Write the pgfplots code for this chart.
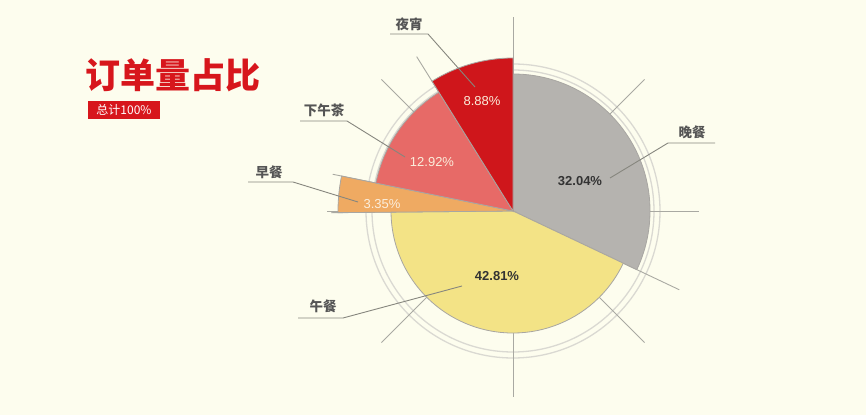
\documentclass[border=0pt]{standalone}
\usepackage{pgfplots}
\usepackage{pgfplotstable}
\pgfplotsset{compat=1.18}
\usepackage{fontspec}
\setmainfont{Liberation Sans}
\newfontfamily\cjk{Noto Sans CJK SC}

\definecolor{bgc}{HTML}{FDFDEE}
\definecolor{titlered}{HTML}{D7161C}
\definecolor{cgray}{HTML}{B5B3AF}
\definecolor{cyellow}{HTML}{F3E386}
\definecolor{corange}{HTML}{EFAA62}
\definecolor{cpink}{HTML}{E76A67}
\definecolor{cred}{HTML}{CF161B}
\definecolor{edgec}{HTML}{A8A6A2}
\definecolor{gridc}{HTML}{A9A9A2}
\definecolor{ringc}{HTML}{DAD9D2}
\definecolor{leadc}{HTML}{86867E}
\definecolor{labc}{HTML}{555555}
\definecolor{lightc}{HTML}{FBEEDC}

% share (%) and drawn radius (pt) of each slice, clockwise from 12 o'clock
\pgfplotstableread{
value radius
32.04 137
42.81 122
3.35 175
12.92 140
8.88 153
}\slices

\begin{document}
\begin{tikzpicture}
% start/end angles from the shares
\pgfmathsetmacro\sA{90}
\pgfplotstablegetelem{0}{value}\of\slices \pgfmathsetmacro\eA{\sA-3.6*\pgfplotsretval}
\pgfplotstablegetelem{0}{radius}\of\slices \let\rA\pgfplotsretval
\let\sB\eA
\pgfplotstablegetelem{1}{value}\of\slices \pgfmathsetmacro\eB{\sB-3.6*\pgfplotsretval}
\pgfplotstablegetelem{1}{radius}\of\slices \let\rB\pgfplotsretval
\let\sC\eB
\pgfplotstablegetelem{2}{value}\of\slices \pgfmathsetmacro\eC{\sC-3.6*\pgfplotsretval}
\pgfplotstablegetelem{2}{radius}\of\slices \let\rC\pgfplotsretval
\let\sD\eC
\pgfplotstablegetelem{3}{value}\of\slices \pgfmathsetmacro\eD{\sD-3.6*\pgfplotsretval}
\pgfplotstablegetelem{3}{radius}\of\slices \let\rD\pgfplotsretval
\let\sE\eD
\pgfplotstablegetelem{4}{value}\of\slices \pgfmathsetmacro\eE{\sE-3.6*\pgfplotsretval}
\pgfplotstablegetelem{4}{radius}\of\slices \let\rE\pgfplotsretval
\begin{axis}[
    x=1pt, y=1pt,
    xmin=0, xmax=866, ymin=0, ymax=415,
    hide axis,
    disabledatascaling,
    clip=false,
]
\fill[bgc] (axis cs:0,0) rectangle (axis cs:866,415);

% rings and radial lines
\draw[ringc, line width=1.3pt] (axis cs:513,204) circle[radius=141pt];
\draw[ringc, line width=1.3pt] (axis cs:513,204) circle[radius=147pt];
\pgfplotsinvokeforeach{0,45,90,135,180,225,270,315}{
  \draw[gridc, line width=0.9pt] (axis cs:513,204) -- ++(#1:186pt);
}
\draw[gridc, line width=0.9pt] (axis cs:513,204) -- ++(90:194pt);
\draw[gridc, line width=0.9pt] (axis cs:513,204) -- ++(\sB:184pt);
\draw[gridc, line width=0.9pt] (axis cs:513,204) -- ++(\sC:182pt);
\draw[gridc, line width=0.9pt] (axis cs:513,204) -- ++(\sD:184pt);
\draw[gridc, line width=0.9pt] (axis cs:513,204) -- ++(\sE:182pt);

% slices
\filldraw[fill=cgray, draw=edgec, line width=0.8pt] (axis cs:513,204) -- ++(\sA:\rA pt) arc[start angle=\sA, end angle=\eA, radius=\rA pt] -- cycle;
\filldraw[fill=cyellow, draw=edgec, line width=0.8pt] (axis cs:513,204) -- ++(\sB:\rB pt) arc[start angle=\sB, end angle=\eB, radius=\rB pt] -- cycle;
\filldraw[fill=corange, draw=edgec, line width=0.8pt] (axis cs:513,204) -- ++(\sC:\rC pt) arc[start angle=\sC, end angle=\eC, radius=\rC pt] -- cycle;
\filldraw[fill=cpink, draw=edgec, line width=0.8pt] (axis cs:513,204) -- ++(\sD:\rD pt) arc[start angle=\sD, end angle=\eD, radius=\rD pt] -- cycle;
\filldraw[fill=cred, draw=edgec, line width=0.8pt] (axis cs:513,204) -- ++(\sE:\rE pt) arc[start angle=\sE, end angle=\eE, radius=\rE pt] -- cycle;

% leader lines
\draw[leadc, line width=0.9pt] (axis cs:390,381) -- (axis cs:428,381) -- (axis cs:475,328);
\draw[leadc, line width=0.9pt] (axis cs:300,294) -- (axis cs:347,294) -- (axis cs:405,258);
\draw[leadc, line width=0.9pt] (axis cs:248,233) -- (axis cs:293,233) -- (axis cs:358,213);
\draw[leadc, line width=0.9pt] (axis cs:298,97) -- (axis cs:343,97) -- (axis cs:462,129);
\draw[leadc, line width=0.9pt] (axis cs:715,272) -- (axis cs:668,272) -- (axis cs:610,237);

% category labels
\node[labc, font=\cjk\bfseries\fontsize{13.5}{15}\selectfont] at (axis cs:409,391) {夜宵};
\node[labc, font=\cjk\bfseries\fontsize{13.5}{15}\selectfont] at (axis cs:324,305) {下午茶};
\node[labc, font=\cjk\bfseries\fontsize{13.5}{15}\selectfont] at (axis cs:269,243) {早餐};
\node[labc, font=\cjk\bfseries\fontsize{13.5}{15}\selectfont] at (axis cs:323,109) {午餐};
\node[labc, font=\cjk\bfseries\fontsize{13.5}{15}\selectfont] at (axis cs:692,283) {晚餐};

% percentages
\node[lightc, font=\fontsize{13}{15}\selectfont] at (axis cs:482,314) {8.88\%};
\node[lightc, font=\fontsize{13}{15}\selectfont] at (axis cs:432,253) {12.92\%};
\node[lightc, font=\fontsize{13}{15}\selectfont] at (axis cs:382,211) {3.35\%};
\node[black!80, font=\bfseries\fontsize{13}{15}\selectfont] at (axis cs:580,234) {32.04\%};
\node[black!80, font=\bfseries\fontsize{13}{15}\selectfont] at (axis cs:497,139) {42.81\%};

% title
\node[titlered, anchor=west, inner sep=0pt, font=\cjk\bfseries\fontsize{35}{38}\selectfont] at (axis cs:85,340) {订单量占比};
\fill[titlered] (axis cs:88,296) rectangle (axis cs:160,314);
\node[white, inner sep=0pt, font=\cjk\fontsize{12}{13}\selectfont] at (axis cs:124,305) {总计100\%};
\end{axis}
\end{tikzpicture}
\end{document}
